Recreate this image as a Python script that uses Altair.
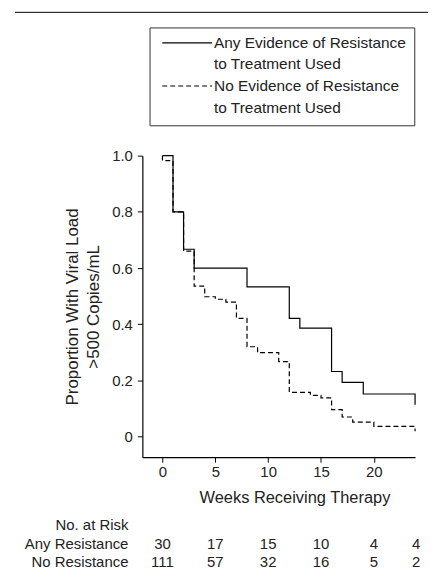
import altair as alt
import pandas as pd

# ---- data ----
solid_weeks = [0, 1, 2, 3, 8, 12, 13, 16, 17, 19, 23.9]
solid_prop = [1.0, 0.8, 0.667, 0.6, 0.533, 0.421, 0.386, 0.232, 0.193, 0.152, 0.114]

dashed_weeks = [0, 0, 1, 2, 3, 4, 5, 6, 7, 8, 9, 11, 12, 14, 15, 16, 17, 18, 20, 23.9]
dashed_prop = [1.0, 0.982, 0.8, 0.66, 0.536, 0.498, 0.489, 0.479, 0.421, 0.32, 0.299,
               0.267, 0.158, 0.147, 0.138, 0.096, 0.070, 0.052, 0.037, 0.019]

risk_weeks = [0, 5, 10, 15, 20, 24]
any_risk = [30, 17, 15, 10, 4, 4]
no_risk = [111, 57, 32, 16, 5, 2]

legend_labels = ["Any Evidence of Resistance", "to Treatment Used",
                 "No Evidence of Resistance", "to Treatment Used"]
row_labels = ["No. at Risk", "Any Resistance", "No Resistance"]

x_ticks = [0, 5, 10, 15, 20]
y_ticks = [0, 0.2, 0.4, 0.6, 0.8, 1.0]

FONT = "Liberation Sans"
TXT = "#222222"
FS = 15

solid_df = pd.DataFrame({"week": solid_weeks, "prop": solid_prop, "i": range(len(solid_weeks))})
dashed_df = pd.DataFrame({"week": dashed_weeks, "prop": dashed_prop, "i": range(len(dashed_weeks))})
risk_df = pd.DataFrame({"week": risk_weeks, "any": any_risk, "no": no_risk})

xscale = alt.Scale(domain=[-1.9, 23.9], nice=False, zero=False)
yscale = alt.Scale(domain=[-0.073, 1.0], nice=False, zero=False)

common_axis = dict(grid=False, tickSize=5, domainColor="black", tickColor="black",
                   domainWidth=1.2, tickWidth=1,
                   labelFont=FONT, labelFontSize=FS, labelColor=TXT,
                   titleFont=FONT, titleColor=TXT, titleFontWeight="normal")

xaxis = alt.Axis(values=x_ticks, title="Weeks Receiving Therapy", labelPadding=2,
                 titleFontSize=16.5,
                 titleX=152.8, titleY=41, titleBaseline="middle", titleAlign="center",
                 titleAnchor="start", **common_axis)
yaxis = alt.Axis(values=y_ticks, title=["Proportion With Viral Load", ">500 Copies/mL"],
                 titleFontSize=17,
                 labelPadding=5, titlePadding=9, titleLineHeight=21.5,
                 labelExpr="datum.value == 0 ? '0' : format(datum.value, '.1f')", **common_axis)


def xenc():
    return alt.X("week:Q", scale=xscale, axis=xaxis)


def yenc():
    return alt.Y("prop:Q", scale=yscale, axis=yaxis)


solid = alt.Chart(solid_df).mark_line(interpolate="step-after", color="black", strokeWidth=1.2).encode(
    x=xenc(), y=yenc(), order="i:Q")
dashed = alt.Chart(dashed_df).mark_line(interpolate="step-after", color="black", strokeWidth=1.2,
                                        strokeDash=[5, 3]).encode(
    x=xenc(), y=yenc(), order="i:Q")

one = pd.DataFrame({"a": [0]})

top_rule = alt.Chart(one).mark_rule(color="black", strokeWidth=1).encode(
    x=alt.value(-128), x2=alt.value(287), y=alt.value(-144))

legend_box = alt.Chart(one).mark_rect(fillOpacity=0, stroke="#333333", strokeWidth=1).encode(
    x=alt.value(7.7), x2=alt.value(273.7), y=alt.value(-128.3), y2=alt.value(-30))

leg_solid = alt.Chart(one).mark_rule(color="black", strokeWidth=1.2).encode(
    x=alt.value(20), x2=alt.value(70), y=alt.value(-113.3))
leg_dash = alt.Chart(one).mark_rule(color="black", strokeWidth=1.2, strokeDash=[5, 3]).encode(
    x=alt.value(20), x2=alt.value(70), y=alt.value(-70))

leg_ys = [-113.3, -91.7, -70, -48.3]
leg_text = [
    alt.Chart(one).mark_text(align="left", baseline="middle", font=FONT, fontSize=15.5, color=TXT,
                             text=lab).encode(x=alt.value(72), y=alt.value(yy))
    for lab, yy in zip(legend_labels, leg_ys)
]

row_ys = [371, 390, 408]
row_text = [
    alt.Chart(one).mark_text(align="right", baseline="middle", font=FONT, fontSize=FS, color=TXT,
                             text=lab).encode(x=alt.value(-14), y=alt.value(yy))
    for lab, yy in zip(row_labels, row_ys)
]

any_nums = alt.Chart(risk_df).mark_text(align="center", baseline="middle", font=FONT, fontSize=FS,
                                        color=TXT).encode(
    x=xenc(), y=alt.value(390), text="any:Q")
no_nums = alt.Chart(risk_df).mark_text(align="center", baseline="middle", font=FONT, fontSize=FS,
                                       color=TXT).encode(
    x=xenc(), y=alt.value(408), text="no:Q")

chart = alt.layer(
    solid, dashed, top_rule, legend_box, leg_solid, leg_dash, *leg_text, *row_text, any_nums, no_nums
).properties(
    width=274, height=303,
    padding={"left": 135, "top": 147, "right": 14, "bottom": 116},
    autosize=alt.AutoSizeParams(type="none"),
).configure_view(stroke=None)

chart.save("out.html", embed_options={"renderer": "svg", "actions": False})
